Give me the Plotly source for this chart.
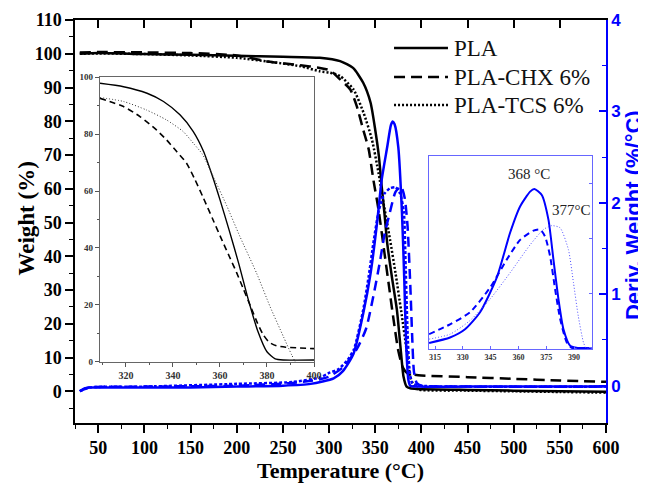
import plotly.graph_objects as go

# ---------------- main TGA weight curves (left axis) ----------------
t_pla = [30, 50, 100, 150, 200, 250, 290, 312, 326, 337, 345, 350, 354, 357, 360, 363, 368, 373.5, 377, 380.7, 384, 388, 395, 450, 500, 550, 600]
w_pla = [100, 100.2, 99.9, 99.7, 99.4, 99.1, 98.8, 97.8, 95.8, 91.4, 85.5, 77.5, 69.6, 60.7, 52.8, 43.9, 34, 24.1, 14.2, 4.3, 1.4, 0.9, 0.7, 0.4, 0.2, 0.0, -0.1]

t_chx = [30, 50, 100, 150, 200, 236, 269, 290, 301, 312, 323, 330, 337, 343, 348, 353.6, 360, 365, 370, 375, 380, 385, 390, 400, 450, 500, 550, 600]
w_chx = [100.4, 100.5, 100.4, 100.2, 99.5, 97.6, 96.6, 95.8, 95.1, 92.4, 89.4, 84.5, 77.5, 71.6, 62.7, 53.8, 41, 31, 21, 12, 7, 5.3, 5.0, 4.7, 4.2, 3.7, 3.2, 2.8]

t_tcs = [30, 50, 100, 150, 200, 236, 269, 290, 301, 312, 326.5, 337.4, 346.4, 353.6, 359, 366, 372, 378, 384, 388, 391.5, 396, 450, 500, 550, 600]
w_tcs = [100, 100.1, 99.9, 99.5, 98.8, 97.6, 96.3, 94.8, 94.4, 93.4, 89.4, 82.5, 74.6, 64.7, 55.8, 45, 35, 24, 12.3, 4.3, 1.9, 0.6, 0.2, 0.0, -0.2, -0.4]

# ---------------- main DTG curves (right axis) ----------------
t_pla_d = [30, 35, 40, 60, 100, 150, 200, 250, 280, 305, 315, 326.5, 337, 345, 352, 357, 363, 367, 369, 371, 375, 379, 381.5, 383.6, 386, 388, 395, 450, 500, 550, 600]
d_pla = [-0.06, -0.03, -0.02, -0.02, -0.02, -0.02, -0.01, 0.0, 0.02, 0.08, 0.16, 0.35, 0.79, 1.23, 1.78, 2.25, 2.61, 2.85, 2.89, 2.86, 2.61, 1.89, 1.16, 0.43, 0.06, 0.0, -0.01, -0.01, -0.01, -0.01, -0.01]

t_chx_d = [30, 40, 100, 200, 260, 290, 300, 315, 330, 340, 348, 355, 360, 366, 372, 378, 382, 385, 388, 390, 392, 395, 400, 450, 600]
d_chx = [-0.06, -0.02, -0.01, 0.0, 0.03, 0.07, 0.1, 0.2, 0.4, 0.62, 0.98, 1.35, 1.65, 1.9, 2.12, 2.18, 2.05, 1.75, 1.1, 0.55, 0.15, 0.03, 0.0, -0.01, -0.01]

t_tcs_d = [30, 40, 100, 200, 260, 290, 300, 310, 320, 327, 337, 343, 348, 354, 360, 366, 372, 377, 381, 383, 385, 387, 390, 400, 450, 600]
d_tcs = [-0.06, -0.02, -0.01, 0.02, 0.04, 0.09, 0.14, 0.18, 0.28, 0.4, 0.83, 1.2, 1.56, 1.92, 2.1, 2.16, 2.17, 2.1, 1.9, 1.3, 0.6, 0.2, 0.03, 0.0, -0.01, -0.01]

# ---------------- inset: weight zoom ----------------
ti_pla = [309, 319, 329, 336, 343, 348.6, 353, 356.5, 360, 364, 368, 372, 376, 380, 383.5, 387, 400]
wi_pla = [97.9, 96.7, 94.4, 91.5, 86.8, 81.0, 74.0, 66.0, 57.0, 46.0, 34.5, 22.0, 11.0, 3.5, 1.0, 0.6, 0.6]

ti_chx = [309, 319, 326, 333, 337.3, 341.6, 345.8, 349.4, 353, 357, 361, 364, 367, 370, 373, 376, 378.4, 381, 384, 388, 400]
wi_chx = [92.6, 89.7, 86.2, 81.5, 78, 73.9, 69.8, 64, 57.5, 50, 42.5, 37, 31.5, 25.5, 19.5, 13.5, 9.5, 6.8, 5.6, 5.1, 4.6]

ti_tcs = [309, 319, 328.8, 337.3, 344.4, 349, 352.5, 357.5, 362.8, 368.5, 375.6, 381.3, 387, 390.5, 392, 393, 400]
wi_tcs = [92.9, 91.5, 88.5, 85, 80.9, 76.5, 73, 64.5, 55, 44, 31.1, 19.4, 8.8, 2.4, 0, -1.5, -2]

# ---------------- inset: DTG zoom ----------------
tj_pla = [311.8, 323.1, 331.2, 339.3, 348.3, 355.5, 360.9, 366.3, 368.6, 372.6, 376.2, 378.9, 381.6, 384.3, 387.9, 392, 399.5]
dj_pla = [0.09, 0.19, 0.34, 0.65, 1.28, 2.1, 2.58, 2.85, 2.9, 2.79, 2.34, 1.61, 0.89, 0.34, 0.04, 0, 0]

tj_chx = [311.8, 323.1, 333.9, 344.7, 353.7, 360.9, 368.1, 371.7, 374.4, 377.1, 379.8, 382.5, 386.1, 388.8, 399.5]
dj_chx = [0.25, 0.43, 0.65, 1.1, 1.61, 1.97, 2.14, 2.16, 2.03, 1.67, 1.07, 0.53, 0.1, 0, 0]

tj_tcs = [311.8, 323.1, 333.9, 344.7, 355.5, 366.3, 373.5, 378, 382.5, 387, 389.7, 392.3, 395.1, 396.5, 399.5]
dj_tcs = [0.16, 0.25, 0.5, 0.89, 1.37, 1.88, 2.16, 2.23, 2.19, 1.79, 1.19, 0.58, 0.1, 0, 0]

series_names = ["PLA", "PLA-CHX 6%", "PLA-TCS 6%"]
peak_labels = ["368 \u00b0C", "377\u00b0C"]
peak_pos_t = [365.5, 388.9]
peak_pos_v = [3.17, 2.52]

BLUE = "#0000ff"
SERIF = "Liberation Serif"
SANS = "Liberation Sans"

black_dashes = ["solid", "11px,6px", "2px,2px"]

fig = go.Figure()

# main black weight curves
for t, w, nm, ds in zip([t_pla, t_chx, t_tcs], [w_pla, w_chx, w_tcs], series_names, black_dashes):
    fig.add_trace(go.Scatter(x=t, y=w, name=nm, mode="lines", showlegend=False,
                             line=dict(color="black", width=2.5, dash=ds, shape="spline", smoothing=0.6)))

# main blue DTG curves
for t, d, ds in zip([t_pla_d, t_chx_d, t_tcs_d], [d_pla, d_chx, d_tcs], ["solid", "10px,6px", "3px,2px"]):
    fig.add_trace(go.Scatter(x=t, y=d, mode="lines", yaxis="y2", showlegend=False,
                             line=dict(color=BLUE, width=2.5, dash=ds, shape="spline", smoothing=0.6)))

# top mirror axis carrier
fig.add_trace(go.Scatter(x=[], y=[], xaxis="x2", yaxis="y", showlegend=False, hoverinfo="skip"))

# inset weight
fig.add_trace(go.Scatter(x=ti_pla, y=wi_pla, mode="lines", xaxis="x3", yaxis="y3", showlegend=False,
                         line=dict(color="black", width=1.4, shape="spline", smoothing=0.6)))
fig.add_trace(go.Scatter(x=ti_chx, y=wi_chx, mode="lines", xaxis="x3", yaxis="y3", showlegend=False,
                         line=dict(color="black", width=1.6, dash="6px,4px", shape="spline", smoothing=0.6)))
fig.add_trace(go.Scatter(x=ti_tcs, y=wi_tcs, mode="lines", xaxis="x3", yaxis="y3", showlegend=False,
                         line=dict(color="#333333", width=1.0, dash="1px,2px", shape="spline", smoothing=0.6)))

# inset DTG
fig.add_trace(go.Scatter(x=tj_pla, y=dj_pla, mode="lines", xaxis="x4", yaxis="y4", showlegend=False,
                         line=dict(color=BLUE, width=2.0, shape="spline", smoothing=0.6)))
fig.add_trace(go.Scatter(x=tj_chx, y=dj_chx, mode="lines", xaxis="x4", yaxis="y4", showlegend=False,
                         line=dict(color=BLUE, width=2.0, dash="6px,4px", shape="spline", smoothing=0.6)))
fig.add_trace(go.Scatter(x=tj_tcs, y=dj_tcs, mode="lines", xaxis="x4", yaxis="y4", showlegend=False,
                         line=dict(color="#4d4dff", width=1.0, dash="1px,2px", shape="spline", smoothing=0.6)))

# manual legend (samples + labels) in paper coordinates
legend_y = [0.9305, 0.8586, 0.7891]
shapes = []
annotations = []
for nm, ds, ly in zip(series_names, black_dashes, legend_y):
    shapes.append(dict(type="line", xref="paper", yref="paper", x0=0.6008, x1=0.7024, y0=ly, y1=ly,
                       line=dict(color="black", width=2.5, dash=ds)))
    annotations.append(dict(text=nm, xref="paper", yref="paper", x=0.7100, y=ly - 0.002,
                            xanchor="left", yanchor="middle", showarrow=False,
                            font=dict(family=SERIF, size=23, color="#111")))

axis_common = dict(showgrid=False, zeroline=False)

annotations += [
    dict(text="Temperature (\u00b0C)", xref="paper", yref="paper", x=0.5, y=-0.118,
         xanchor="center", yanchor="middle", showarrow=False,
         font=dict(family=SERIF, size=22, color="black", weight="bold")),
    dict(text="Weight (%)", xref="paper", yref="paper", x=-0.0904, y=0.5074, textangle=-90,
         xanchor="center", yanchor="middle", showarrow=False,
         font=dict(family=SERIF, size=23, color="black", weight="bold")),
    dict(text="Deriv. Weight (%/\u00b0C)", xref="paper", yref="paper", x=1.0508, y=0.516, textangle=-90,
         xanchor="center", yanchor="middle", showarrow=False,
         font=dict(family=SANS, size=22, color=BLUE, weight="bold")),
    dict(text=peak_labels[0], xref="x4", yref="y4", x=peak_pos_t[0], y=peak_pos_v[0], showarrow=False,
         font=dict(family=SERIF, size=15, color="#222")),
    dict(text=peak_labels[1], xref="x4", yref="y4", x=peak_pos_t[1], y=peak_pos_v[1], showarrow=False,
         font=dict(family=SERIF, size=15, color="#222")),
]

# the page body has an 8px margin: figure is 638x476 placed at (8,8)
fig.update_layout(
    template="none",
    width=638, height=476,
    margin=dict(l=67, r=40, t=12, b=61, pad=0),
    paper_bgcolor="white", plot_bgcolor="white",
    showlegend=False,
    shapes=shapes,
    annotations=annotations,
    xaxis=dict(**axis_common, domain=[0, 1], range=[24.8, 600], tick0=0, dtick=50,
               ticks="outside", ticklen=8, tickwidth=1.5, tickcolor="black",
               minor=dict(dtick=25, ticks="outside", ticklen=4, tickwidth=1.2, tickcolor="black"),
               showline=True, linecolor="black", linewidth=1.5,
               tickfont=dict(family=SERIF, size=18, color="black", weight="bold"), automargin=False),
    xaxis2=dict(**axis_common, overlaying="x", side="top", anchor="y", range=[24.8, 600], tick0=0, dtick=50,
                ticks="inside", ticklen=8, tickwidth=1.5, tickcolor="black", showticklabels=False,
                showline=True, linecolor="black", linewidth=1.5, automargin=False),
    yaxis=dict(**axis_common, domain=[0, 1], range=[-9.39, 110], tick0=0, dtick=10,
               ticks="outside", ticklen=8, tickwidth=1.5, tickcolor="black",
               minor=dict(dtick=5, ticks="outside", ticklen=4, tickwidth=1.2, tickcolor="black"),
               showline=True, linecolor="black", linewidth=1.5,
               tickfont=dict(family=SERIF, size=18, color="black", weight="bold"), automargin=False),
    yaxis2=dict(**axis_common, overlaying="y", side="right", anchor="x", range=[-0.408, 4], tick0=0, dtick=1,
                ticks="inside", ticklen=7, tickwidth=1.5, tickcolor=BLUE,
                minor=dict(dtick=0.5, ticks="inside", ticklen=4, tickwidth=1.2, tickcolor=BLUE),
                showline=True, linecolor=BLUE, linewidth=1.5,
                tickfont=dict(family=SANS, size=17, color=BLUE, weight="bold"), automargin=False),
    xaxis3=dict(**axis_common, domain=[0.0471, 0.4501], anchor="y3", range=[309, 400], tick0=0, dtick=20,
                ticks="outside", ticklen=4, tickwidth=1, tickcolor="#555",
                minor=dict(dtick=10, ticks="outside", ticklen=2, tickcolor="#555"),
                showline=True, mirror=True, linecolor="#666", linewidth=1.2,
                tickfont=dict(family=SERIF, size=10, color="#333", weight="bold"), automargin=False),
    yaxis3=dict(**axis_common, domain=[0.1521, 0.8578], anchor="x3", range=[0, 100], tick0=0, dtick=20,
                ticks="outside", ticklen=4, tickwidth=1, tickcolor="#555",
                minor=dict(dtick=10, ticks="outside", ticklen=2, tickcolor="#555"),
                showline=True, mirror=True, linecolor="#666", linewidth=1.2,
                tickfont=dict(family=SERIF, size=9, color="#333", weight="bold"), automargin=False),
    xaxis4=dict(**axis_common, domain=[0.6667, 0.9731], anchor="y4", range=[311.76, 399.55], tick0=315, dtick=15,
                ticks="inside", ticklen=3, tickwidth=1, tickcolor="#6666ff",
                showline=True, mirror=True, linecolor="#6666ff", linewidth=1.2,
                tickfont=dict(family=SERIF, size=8, color="#333", weight="bold"), automargin=False),
    yaxis4=dict(**axis_common, domain=[0.1836, 0.6625], anchor="x4", side="right", range=[-0.02, 3.5], dtick=1,
                ticks="inside", ticklen=3, tickwidth=1, tickcolor="#6666ff", showticklabels=False,
                showline=True, mirror=True, linecolor="#6666ff", linewidth=1.2, automargin=False),
)

fig.write_html("out.html")
